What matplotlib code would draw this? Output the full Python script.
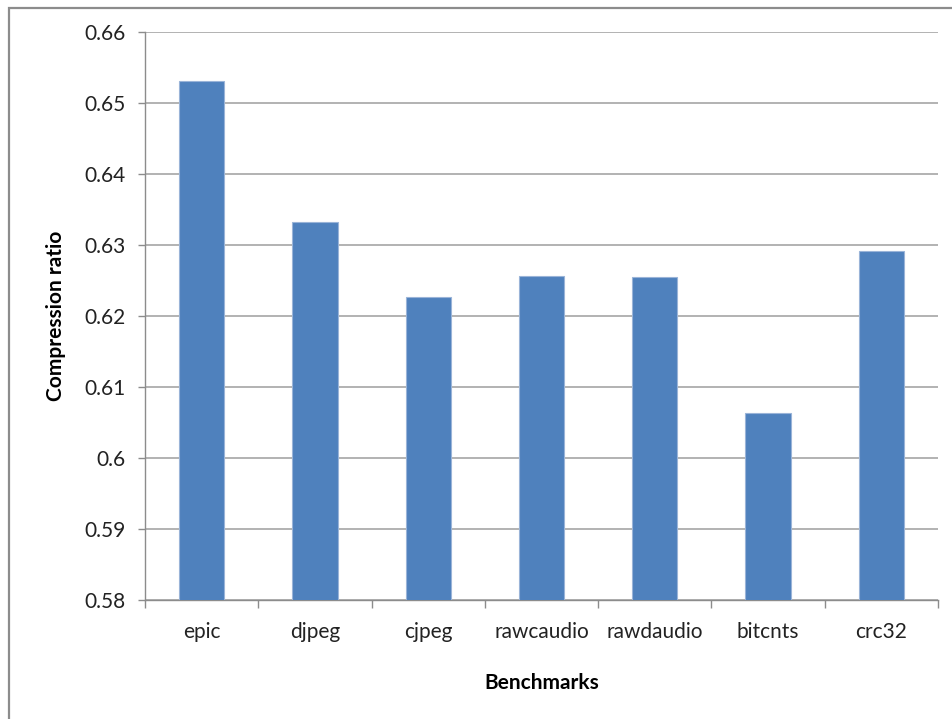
import matplotlib
matplotlib.use("Agg")
import matplotlib.pyplot as plt
from matplotlib.patches import Rectangle
import numpy as np

benchmarks = ["epic", "djpeg", "cjpeg", "rawcaudio", "rawdaudio", "bitcnts", "crc32"]
compression_ratio = [0.6532, 0.6332, 0.6227, 0.6256, 0.6255, 0.6064, 0.6292]
y_ticks = [0.58, 0.59, 0.60, 0.61, 0.62, 0.63, 0.64, 0.65, 0.66]
y_tick_labels = ["0.58", "0.59", "0.6", "0.61", "0.62", "0.63", "0.64", "0.65", "0.66"]

plt.rcParams["font.family"] = ["Lato", "DejaVu Sans"]

fig = plt.figure(figsize=(9.52, 7.19), dpi=100)
ax = fig.add_axes([145 / 952, 1 - 600 / 719, (938 - 145) / 952, (600 - 32.3) / 719])

# outer chart frame (extends past the right and bottom edges)
fig.patches.append(Rectangle((8.5 / 952, -0.1), 1.2, 1 - 7.5 / 719 + 0.1,
                             transform=fig.transFigure, fill=False,
                             edgecolor="#8c8c8c", linewidth=1.6))

x = np.arange(len(benchmarks))
ax.bar(x, compression_ratio, width=0.4, color="#4F81BD",
       edgecolor="#9ab4d8", linewidth=0.8, zorder=3)

ax.set_xlim(-0.5, len(benchmarks) - 0.5)
ax.set_ylim(0.58, 0.66)
ax.set_yticks(y_ticks)
ax.set_yticklabels(y_tick_labels, fontsize=15, color="#222222")
ax.yaxis.grid(True, color="#a6a6a6", linewidth=1.2, zorder=0)

ax.set_xticks(x)
ax.set_xticklabels(benchmarks, fontsize=15, color="#222222")
ax.set_xticks(np.arange(-0.5, len(benchmarks)), minor=True)
ax.tick_params(axis="x", which="major", length=0, pad=16)
ax.tick_params(axis="x", which="minor", length=5.8, color="#8c8c8c", width=1)
ax.tick_params(axis="y", length=5, color="#8c8c8c", width=1, pad=9)

for side in ("top", "right"):
    ax.spines[side].set_visible(False)
for side in ("left", "bottom"):
    ax.spines[side].set_color("#8c8c8c")
    ax.spines[side].set_linewidth(1)

ax.set_xlabel("Benchmarks", fontsize=15, fontweight="bold", labelpad=22)
ax.set_ylabel("Compression ratio", fontsize=15, fontweight="bold", labelpad=13)

fig.savefig("out.png", dpi=100)
